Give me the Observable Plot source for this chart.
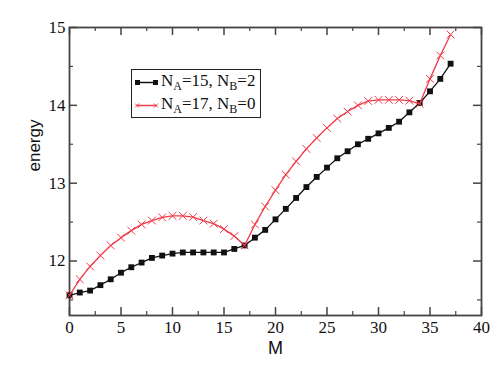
<!DOCTYPE html>
<html><head><meta charset="utf-8">
<script src="https://cdn.jsdelivr.net/npm/d3@7"></script>
<script src="https://cdn.jsdelivr.net/npm/@observablehq/plot@0.6"></script>
<style>
body{margin:0;background:#fff;}
#wrap{position:relative;width:498px;height:374px;}
#wrap svg g[aria-label$="tick label"] text{font-family:"Liberation Serif",serif;}
#legend{position:absolute;left:131px;top:69px;width:128px;height:47px;border:1.5px solid #222;background:#fff;font-family:"Liberation Serif",serif;font-size:17px;color:#111;}
.row{position:absolute;left:0;height:22px;white-space:nowrap;}
.row svg{position:absolute;left:3px;top:2px;}
.row span.t{position:absolute;left:29px;top:0px;line-height:20px;}
sub{font-size:12px;vertical-align:-4px;line-height:0;}
</style></head>
<body><div id="wrap"><div id="legend"></div></div>
<script>
const M = [0,1,2,3,4,5,6,7,8,9,10,11,12,13,14,15,16,17,18,19,20,21,22,23,24,25,26,27,28,29,30,31,32,33,34,35,36,37];
const seriesA = [11.56,11.595,11.62,11.69,11.765,11.85,11.92,11.98,12.04,12.07,12.095,12.11,12.11,12.11,12.11,12.11,12.155,12.20,12.30,12.40,12.535,12.67,12.81,12.95,13.08,13.20,13.32,13.41,13.50,13.57,13.64,13.71,13.79,13.91,14.03,14.18,14.34,14.535];
const seriesB = [11.56,11.765,11.93,12.07,12.20,12.30,12.39,12.47,12.52,12.56,12.58,12.58,12.565,12.52,12.48,12.41,12.32,12.20,12.47,12.70,12.91,13.11,13.28,13.44,13.58,13.71,13.83,13.92,14.00,14.055,14.07,14.07,14.07,14.06,14.02,14.34,14.64,14.91];
const labelA = ["N","A","=15, N","B","=2"];
const labelB = ["N","A","=17, N","B","=0"];
const xMajor = [0,5,10,15,20,25,30,35,40];
const xMinor = [2.5,7.5,12.5,17.5,22.5,27.5,32.5,37.5];
const yMajor = [12,13,14,15];
const yMinor = [11.5,12.5,13.5,14.5];

const W = 498, H = 374, mL = 69, mR = 17, mT = 27, mB = 59;
const pw = W - mL - mR, ph = H - mT - mB;
const black = "#111", red = "#f03a48", frameC = "#444";
const serif = "'Liberation Serif', serif";
const sans = "'Liberation Sans', sans-serif";

const dataA = M.map((m,i)=>({m, e: seriesA[i]}));
const dataB = M.map((m,i)=>({m, e: seriesB[i]}));

const chart = Plot.plot({
  width: W, height: H,
  marginLeft: mL, marginRight: mR, marginTop: mT, marginBottom: mB,
  style: {fontFamily: serif, fontSize: "17px", color: "#111", background: "#fff"},
  x: {domain: [0, 40]},
  y: {domain: [11.3, 15]},
  marks: [
    Plot.axisX({ticks: xMajor, tickSize: 0, tickPadding: 5, label: null, tickFormat: d=>d, fontFamily: serif, fontSize: 17, fill: "#111"}),
    Plot.axisY({ticks: yMajor, tickSize: 0, tickPadding: 4, label: null, tickFormat: d=>d, fontFamily: serif, fontSize: 17, fill: "#111"}),
    Plot.tickX(xMajor, {x: d=>d, insetTop: ph-8, stroke: frameC, strokeWidth: 1.5}),
    Plot.tickX(xMajor, {x: d=>d, insetBottom: ph-8, stroke: frameC, strokeWidth: 1.5}),
    Plot.tickX(xMinor, {x: d=>d, insetTop: ph-4, stroke: frameC, strokeWidth: 1.2}),
    Plot.tickX(xMinor, {x: d=>d, insetBottom: ph-4, stroke: frameC, strokeWidth: 1.2}),
    Plot.tickY(yMajor, {y: d=>d, insetRight: pw-8, stroke: frameC, strokeWidth: 1.5}),
    Plot.tickY(yMajor, {y: d=>d, insetLeft: pw-8, stroke: frameC, strokeWidth: 1.5}),
    Plot.tickY(yMinor, {y: d=>d, insetRight: pw-4, stroke: frameC, strokeWidth: 1.2}),
    Plot.tickY(yMinor, {y: d=>d, insetLeft: pw-4, stroke: frameC, strokeWidth: 1.2}),
    Plot.frame({stroke: frameC, strokeWidth: 1.8}),
    Plot.line(dataA, {x: "m", y: "e", stroke: black, strokeWidth: 1.3}),
    Plot.dot(dataA, {x: "m", y: "e", symbol: "square", fill: black, r: 3.3}),
    Plot.line(dataB, {x: "m", y: "e", stroke: red, strokeWidth: 1.3}),
    Plot.dot(dataB, {x: "m", y: "e", symbol: "times", stroke: red, strokeWidth: 1, r: 3.6}),
    Plot.text(["energy"], {text: d=>d, frameAnchor: "left", dx: -35, rotate: -90, fontFamily: sans, fontSize: 17, fill: "#111"}),
    Plot.text(["M"], {text: d=>d, frameAnchor: "bottom", dy: 38, fontFamily: sans, fontSize: 18, fill: "#111"})
  ]
});
document.getElementById("wrap").prepend(chart);

function row(lbl, color, marker, top){
  const r = document.createElement("div");
  r.className = "row"; r.style.top = top + "px";
  const mk = marker === "square"
    ? `<rect x="0" y="7" width="5" height="5" fill="${color}"/><rect x="18" y="7" width="5" height="5" fill="${color}"/>`
    : `<path d="M0,7.5l4,4M0,11.5l4,-4M19,7.5l4,4M19,11.5l4,-4" stroke="${color}" stroke-width="1"/>`;
  r.innerHTML = `<svg width="24" height="20"><line x1="2" x2="21" y1="9.5" y2="9.5" stroke="${color}" stroke-width="1.5"/>${mk}</svg>` +
    `<span class="t">${lbl[0]}<sub>${lbl[1]}</sub>${lbl[2]}<sub>${lbl[3]}</sub>${lbl[4]}</span>`;
  document.getElementById("legend").appendChild(r);
}
row(labelA, black, "square", 1);
row(labelB, red, "times", 24);
</script>
</body></html>
